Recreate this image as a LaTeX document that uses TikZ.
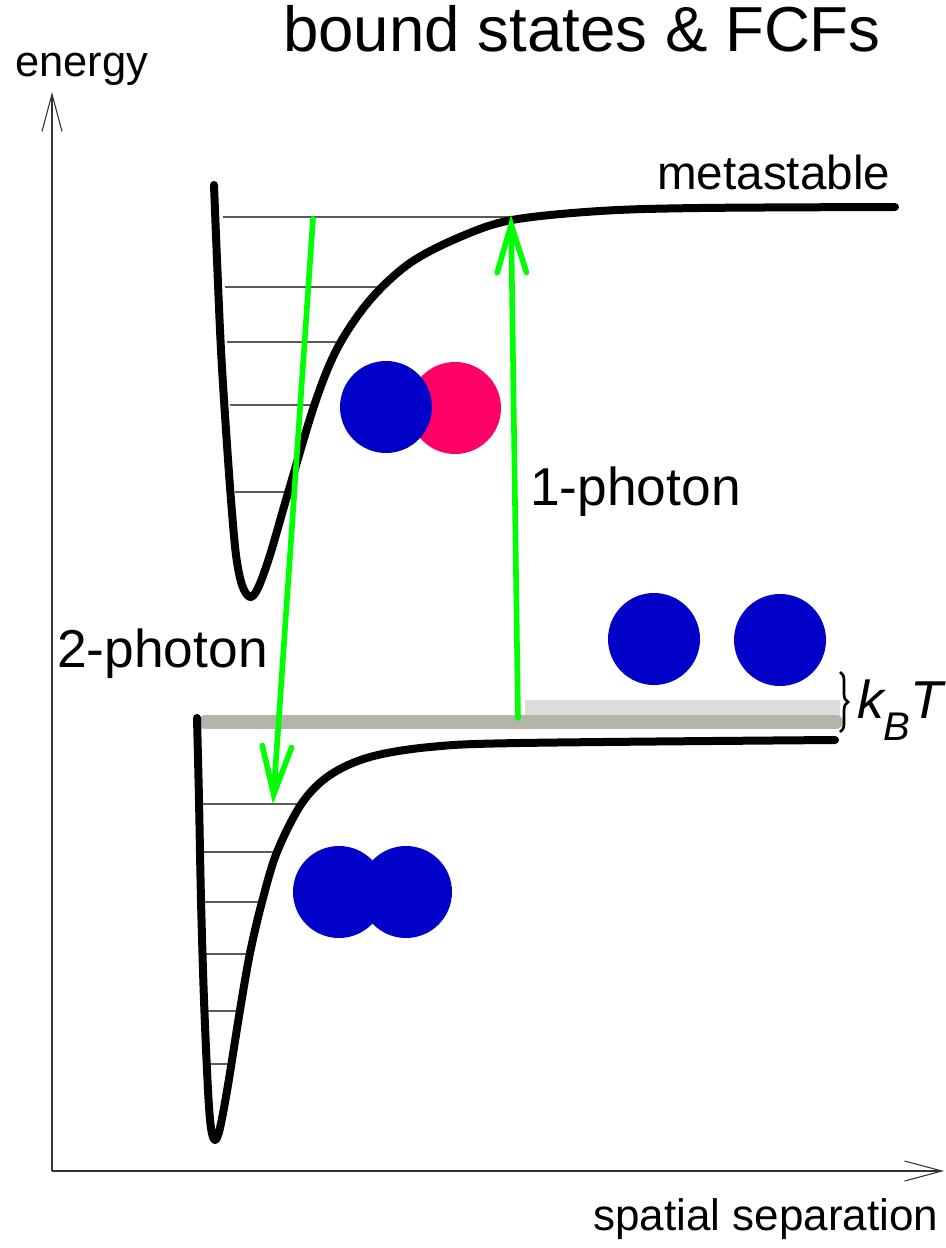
\documentclass[tikz,border=0pt]{standalone}
\usepackage{fontspec}
\setmainfont{Liberation Sans}
\usetikzlibrary{arrows.meta,decorations.pathreplacing}
\definecolor{lgreen}{RGB}{0,255,0}
\definecolor{atomblue}{RGB}{0,0,200}
\definecolor{atompink}{RGB}{255,0,102}
\definecolor{bandgray}{RGB}{180,180,168}
\definecolor{lightband}{RGB}{220,220,220}
\definecolor{levelgray}{RGB}{90,90,90}
\definecolor{axisgray}{RGB}{50,50,50}
\tikzset{
  pot/.style={line width=6pt, line cap=round, line join=round},
  level/.style={line width=1.1pt, levelgray},
  photon/.style={line width=4.2pt, lgreen, line cap=round, -{Straight Barb[length=36pt,width=22pt,line cap=round]}},
  axisline/.style={line width=0.8pt, axisgray, -{Straight Barb[length=28pt,width=15pt]}},
  atomB/.style={circle, fill=atomblue, inner sep=0pt, minimum size=69pt},
  atomP/.style={circle, fill=atompink, inner sep=0pt, minimum size=69pt},
  lbl/.style={inner sep=0pt, anchor=base west}
}
\begin{document}
\begin{tikzpicture}[x=0.75pt,y=-0.75pt]
\useasboundingbox (0,0) rectangle (945,1248);
\fill[white] (0,0) rectangle (945,1248);

% axes
\coordinate (origin) at (52,1171);
\coordinate (ytop) at (52,92);
\coordinate (xend) at (944,1171);
\draw[axisline] (origin) -- (ytop);
\draw[axisline] (origin) -- (xend);

% texts
\node[lbl, font=\fontsize{47.7}{50}\selectfont] (title) at (283,52) {bound states \& FCFs};
\node[lbl, font=\fontsize{32.6}{34}\selectfont] (energy) at (15,77) {energy};
\node[lbl, font=\fontsize{35.7}{38}\selectfont] (meta) at (657,190) {metastable};
\node[lbl, font=\fontsize{40}{42}\selectfont] (one) at (530,505) {1-photon};
\node[lbl, font=\fontsize{40}{42}\selectfont] (two) at (57,667) {2-photon};
\node[lbl, font=\fontsize{33}{35}\selectfont] (spatial) at (593,1230) {spatial separation};

% bands
\fill[lightband] (525,700) rectangle (840,716);
\coordinate (bandL) at (205,722);
\coordinate (bandR) at (836,722);
\draw[bandgray, line width=10.5pt, line cap=round] (bandL) -- (bandR);

% upper vibrational levels
\draw[level] (223,217) -- (512,217);
\draw[level] (225,287) -- (383,287);
\draw[level] (227,342) -- (340,342);
\draw[level] (230,405) -- (314,405);
\draw[level] (235,492) -- (287,492);

% lower vibrational levels
\draw[level] (200,804) -- (302,804);
\draw[level] (201,852) -- (277,852);
\draw[level] (202,902) -- (262,902);
\draw[level] (204,954) -- (250,954);
\draw[level] (206,1011) -- (239,1011);
\draw[level] (209,1064) -- (229,1064);

% upper potential
\draw[pot] plot[smooth, tension=0.55] coordinates {(214,185) (217,260) (221,350) (226,430) (231,500) (236,555) (242,585) (250,597) (258,588) (270,555) (288,493) (315,403) (338,347) (370,300) (410,263) (460,237) (512,220) (600,211) (700,208) (895,207)};

% lower potential
\draw[pot] plot[smooth, tension=0.55] coordinates {(197,718) (199,800) (201,900) (204,1000) (208,1090) (211,1128) (215,1140) (220,1128) (228,1085) (240,1010) (250,953) (262,902) (277,852) (302,803) (330,775) (370,757) (430,747) (520,743) (835,740)};

% molecules
\node[atomP] (upP) at (455,408) {};
\node[atomB] (upB) at (386,407) {};
\node[atomB] (loL) at (339,892) {};
\node[atomB] (loR) at (406,892) {};
\node[atomB] (freeL) at (654,639) {};
\node[atomB] (freeR) at (780,640) {};

% photons
\coordinate (p2s) at (313,219);
\coordinate (p2e) at (273,804);
\coordinate (p1s) at (518,718);
\coordinate (p1e) at (511,215);
\draw[photon] (p2s) -- (p2e);
\draw[photon] (p1s) -- (p1e);

% brace and kBT
\coordinate (brT) at (840,672);
\coordinate (brB) at (840,732);
\draw[line width=2pt, decorate, decoration={brace, amplitude=6pt}] (brT) -- (brB);
\node[lbl, font=\fontsize{40}{42}\selectfont\itshape] (kbt) at (857,718) {k\raisebox{-0.42em}{\fontsize{30}{30}\selectfont B}T};
\end{tikzpicture}
\end{document}
